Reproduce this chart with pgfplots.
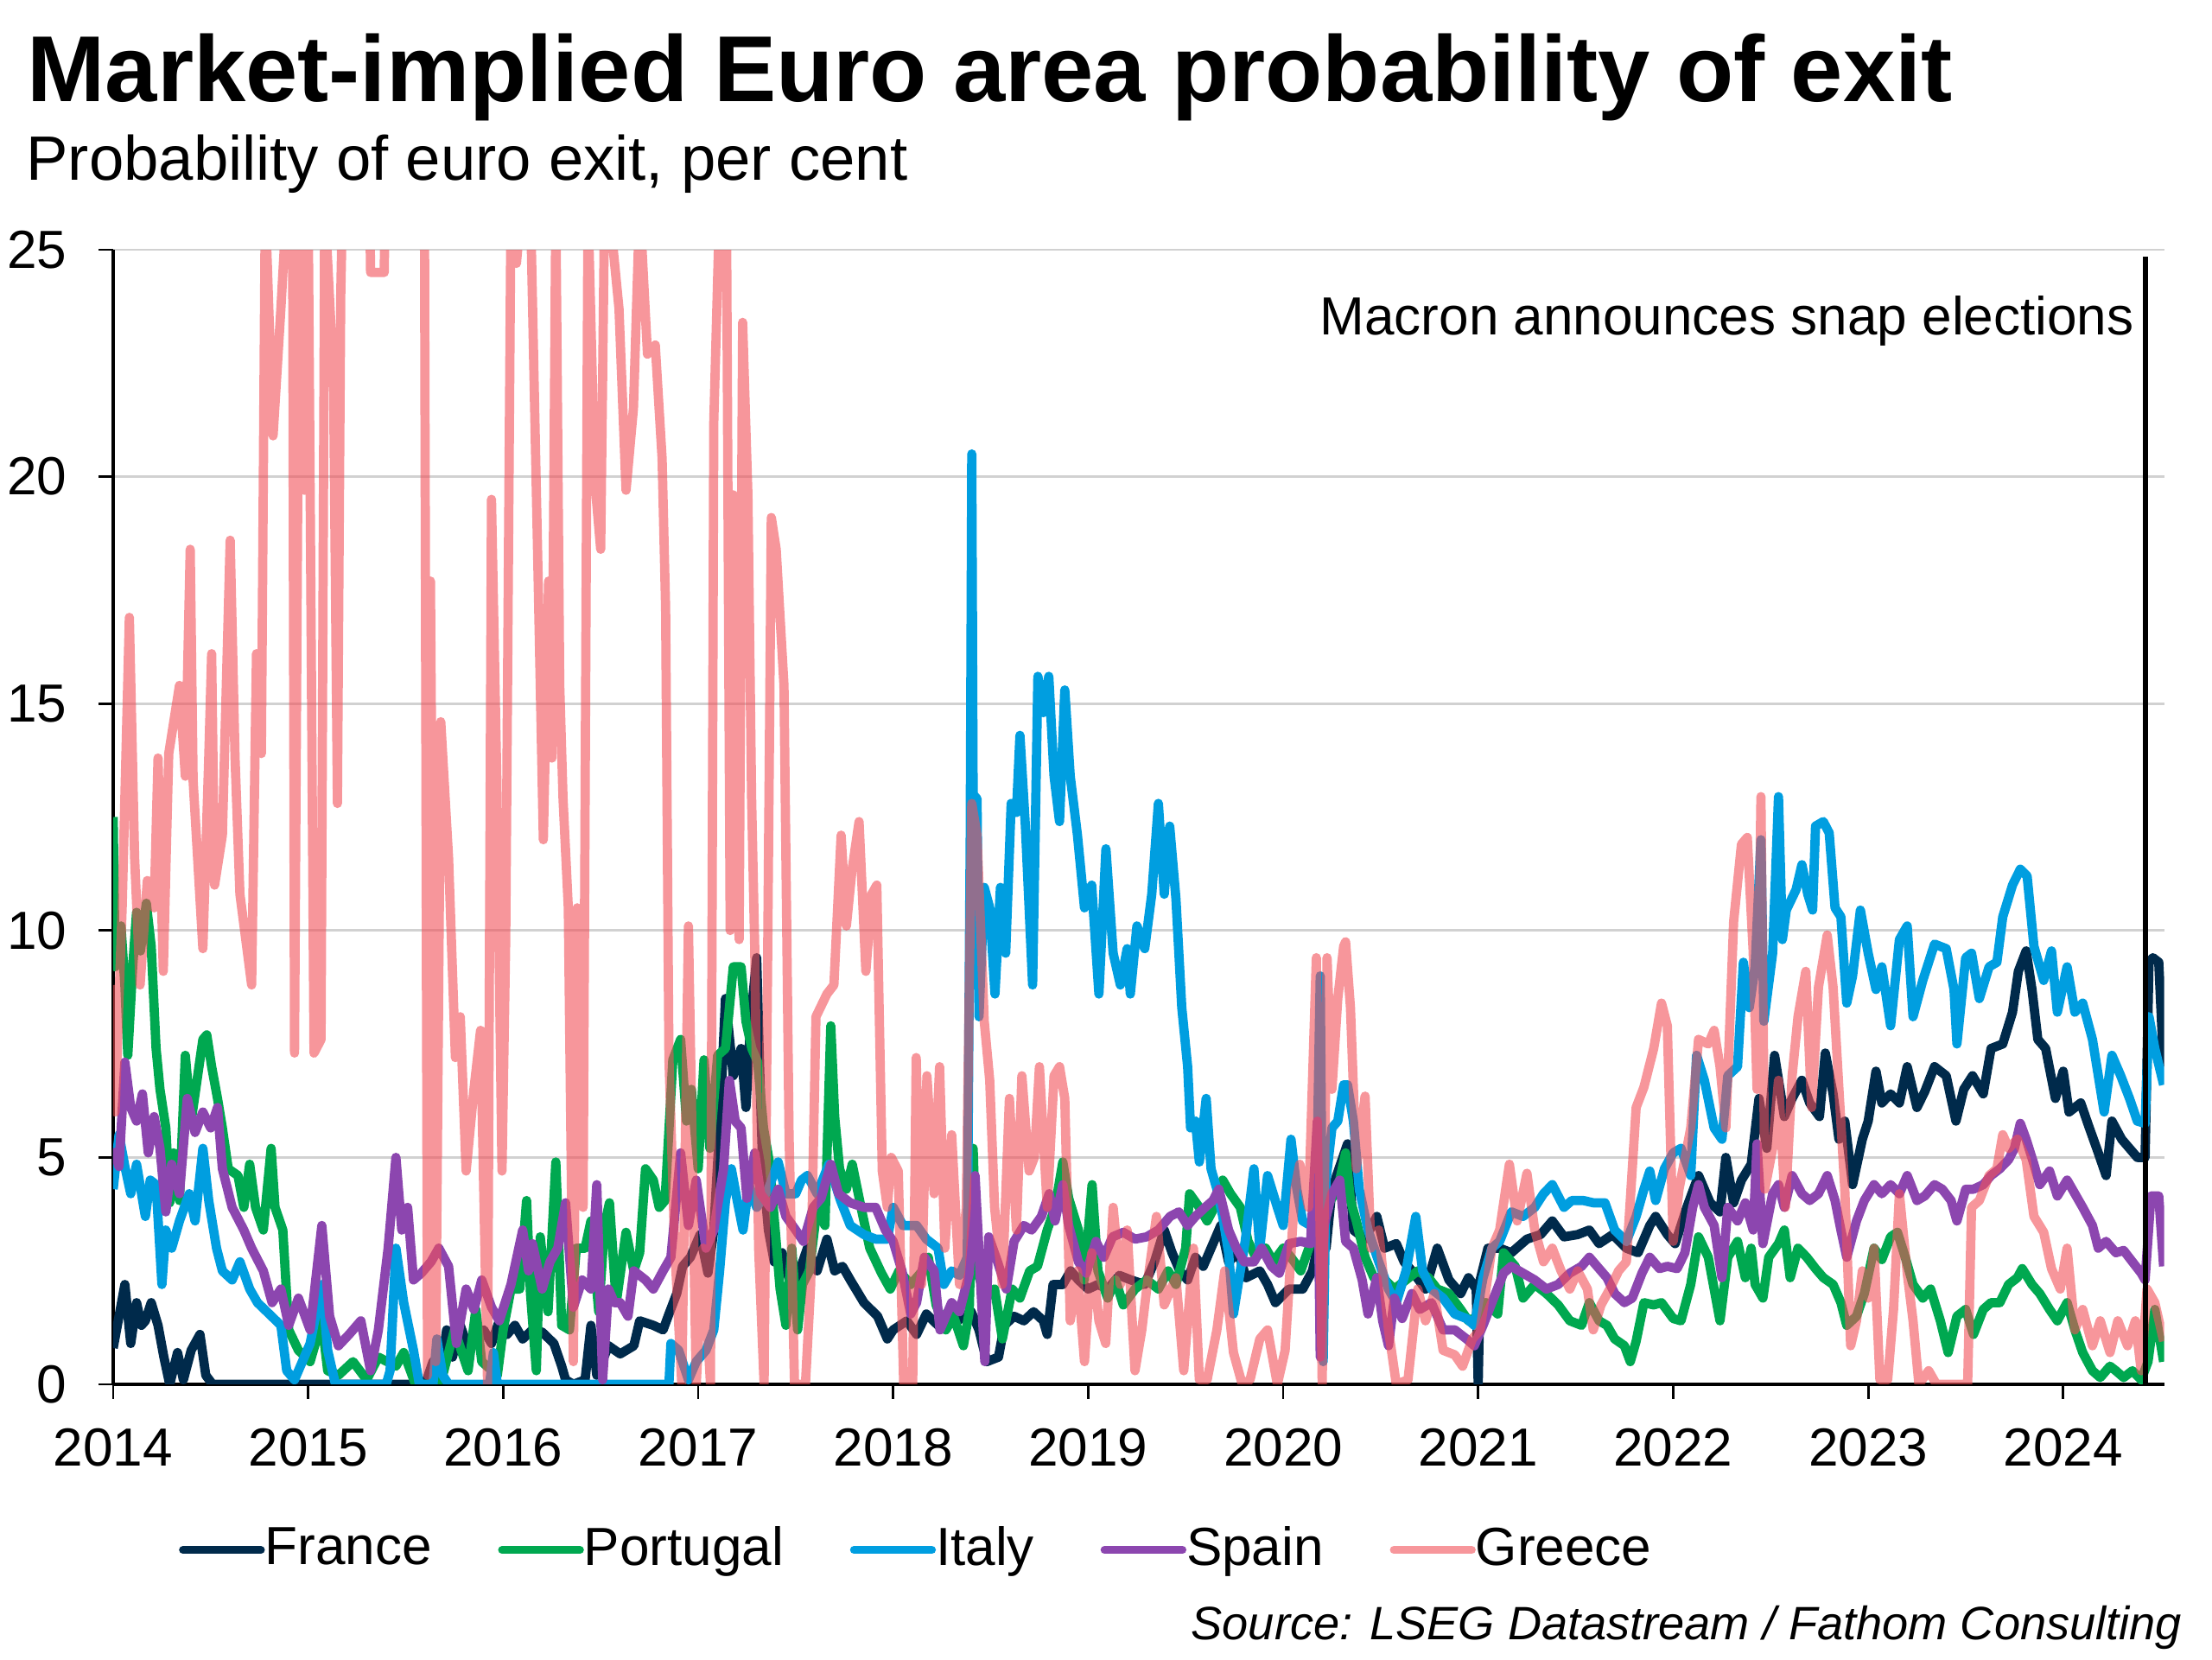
\documentclass[border=0pt]{standalone}
\usepackage{pgfplots}
\pgfplotsset{compat=1.18}
\usepackage{fontspec}
\setmainfont{Liberation Sans}
\definecolor{cFrance}{RGB}{0,42,75}
\definecolor{cPortugal}{RGB}{0,168,80}
\definecolor{cItaly}{RGB}{0,158,224}
\definecolor{cSpain}{RGB}{140,70,175}
\definecolor{cGreece}{RGB}{242,80,88}
\begin{document}
\begin{tikzpicture}
\path[use as bounding box] (-23.21pt,-56.52pt) rectangle (430.4pt,283.86pt);
\begin{axis}[
  name=ax,
  at={(0pt,0pt)}, anchor=south west,
  scale only axis,
  width=420.6pt, height=232.65pt,
  xmin=2014, xmax=2024.518,
  ymin=0, ymax=25,
  axis x line*=bottom, axis y line*=left,
  axis line style={black, line width=0.6pt},
  xtick={2014,2015,2016,2017,2018,2019,2020,2021,2022,2023,2024},
  xticklabels={2014,2015,2016,2017,2018,2019,2020,2021,2022,2023,2024},
  ytick={0,5,10,15,20,25},
  yticklabels={0,5,10,15,20,25},
  tick align=outside,
  major tick length=3pt,
  tick style={black, line width=0.5pt},
  ymajorgrids,
  major grid style={draw=black!18, line width=0.5pt},
  tick label style={font=\fontsize{11}{13}\selectfont, inner sep=0pt},
  xticklabel style={anchor=north, yshift=-5.9pt},
  yticklabel style={anchor=east, xshift=-6.3pt},
  every axis plot/.append style={line width=1.9pt, line join=round},
  legend columns=5,
  legend style={
    at={(axis description cs:0.0321,-0.146)}, anchor=west,
    draw=none, fill=none, inner sep=0pt, outer sep=0pt,
    font=\fontsize{11}{13}\selectfont,
    column sep=0pt,
    /tikz/every even column/.append style={column sep=13.6pt},
    nodes={inner sep=0pt},
  },
  legend image code/.code={\draw[line cap=round, line width=1.6pt] (0pt,0pt) -- (16pt,0pt);},
]
% France
\addplot[color=cFrance] coordinates {
(2014.00,0.8) (2014.03,1.5) (2014.06,2.2) (2014.09,0.9) (2014.12,1.8) (2014.145,1.3) (2014.165,1.4) (2014.195,1.8) (2014.23,1.3) (2014.26,0.6) (2014.29,0.0) (2014.33,0.7) (2014.36,0.1) (2014.40,0.75) (2014.445,1.1) (2014.475,0.2) (2014.51,0.0) (2015.60,0.0)
(2015.64,0.5) (2015.68,0.3) (2015.71,1.2) (2015.74,0.6) (2015.78,1.3) (2015.82,0.8) (2015.86,1.1) (2015.90,1.2) (2015.94,0.9) (2015.98,1.4) (2016.02,1.1) (2016.06,1.3) (2016.10,1.0) (2016.15,1.2) (2016.20,1.15) (2016.26,0.9) (2016.30,0.4) (2016.32,0.1) (2016.36,0.0) (2016.42,0.1) (2016.45,1.3) (2016.48,0.2) (2016.54,0.85) (2016.60,0.67) (2016.67,0.85) (2016.70,1.4) (2016.77,1.3) (2016.82,1.2) (2016.85,1.55) (2016.89,2.0) (2016.92,2.6) (2016.96,2.8) (2017.01,3.3) (2017.05,2.45) (2017.08,3.4) (2017.11,5.65) (2017.14,8.5) (2017.18,6.8) (2017.22,7.4) (2017.245,6.1) (2017.27,8.05) (2017.30,9.4) (2017.315,7.0) (2017.33,4.9) (2017.36,3.4) (2017.39,2.7) (2017.43,2.9) (2017.48,2.1) (2017.52,2.5) (2017.56,3.0) (2017.61,2.5) (2017.66,3.2) (2017.70,2.5) (2017.74,2.6) (2017.78,2.3) (2017.85,1.8) (2017.92,1.5) (2017.97,1.0) (2018.00,1.2) (2018.07,1.4) (2018.12,1.1) (2018.17,1.55) (2018.23,1.3) (2018.28,1.5) (2018.33,1.4) (2018.40,1.6) (2018.44,1.2) (2018.48,0.5) (2018.54,0.6) (2018.57,1.3) (2018.62,1.5) (2018.67,1.4) (2018.72,1.6) (2018.77,1.4) (2018.79,1.1) (2018.82,2.2) (2018.87,2.2) (2018.91,2.5) (2018.95,2.3) (2019.00,2.1) (2019.05,2.2) (2019.10,2.1) (2019.16,2.4) (2019.22,2.3) (2019.29,2.2) (2019.34,2.7) (2019.39,3.4) (2019.43,2.9) (2019.47,2.5) (2019.51,2.3) (2019.55,2.8) (2019.59,2.6) (2019.63,3.0) (2019.68,3.5) (2019.72,2.7) (2019.77,2.9) (2019.81,2.35) (2019.88,2.5) (2019.92,2.2) (2019.96,1.8) (2020.03,2.1) (2020.10,2.1) (2020.15,2.5) (2020.19,3.3) (2020.22,3.0) (2020.25,4.3) (2020.29,4.8) (2020.33,5.3) (2020.36,3.4) (2020.42,3.2) (2020.48,3.7) (2020.52,3.0) (2020.58,3.1) (2020.62,2.7) (2020.66,2.5) (2020.73,2.1) (2020.79,3.0) (2020.85,2.3) (2020.91,2.0) (2020.95,2.35) (2020.99,2.1) (2021.00,0.0) (2021.01,2.3) (2021.05,3.0) (2021.11,3.0) (2021.17,2.9) (2021.25,3.2) (2021.32,3.3) (2021.38,3.6) (2021.44,3.25) (2021.51,3.3) (2021.57,3.4) (2021.62,3.1) (2021.69,3.3) (2021.76,3.0) (2021.82,2.9) (2021.88,3.5) (2021.91,3.7) (2021.97,3.3) (2022.01,3.1) (2022.07,3.9) (2022.13,4.6) (2022.19,4.0) (2022.24,3.8) (2022.27,5.0) (2022.31,4.0) (2022.35,4.5) (2022.40,4.85) (2022.44,6.3) (2022.48,5.2) (2022.52,7.25) (2022.57,5.9) (2022.61,6.3) (2022.66,6.7) (2022.70,6.2) (2022.75,5.9) (2022.78,7.3) (2022.82,6.4) (2022.85,5.4) (2022.88,5.8) (2022.92,4.4) (2022.97,5.4) (2023.00,5.8) (2023.04,6.9) (2023.07,6.2) (2023.115,6.4) (2023.16,6.2) (2023.20,7.0) (2023.25,6.1) (2023.29,6.45) (2023.34,7.0) (2023.40,6.8) (2023.45,5.8) (2023.49,6.5) (2023.535,6.8) (2023.59,6.4) (2023.63,7.4) (2023.69,7.5) (2023.74,8.2) (2023.77,9.1) (2023.81,9.55) (2023.84,8.7) (2023.87,7.6) (2023.91,7.4) (2023.96,6.3) (2024.00,6.9) (2024.03,6.0) (2024.09,6.2) (2024.13,5.7) (2024.18,5.1) (2024.22,4.6) (2024.25,5.8) (2024.30,5.4) (2024.34,5.2) (2024.38,5.0) (2024.42,5.0) (2024.44,9.3) (2024.46,9.4) (2024.49,9.3) (2024.515,7.0)
};
\addlegendentry{France}
% Portugal
\addplot[color=cPortugal] coordinates {
(2014.00,12.5) (2014.01,9.2) (2014.04,10.1) (2014.06,8.8) (2014.075,7.25) (2014.10,9.2) (2014.12,10.4) (2014.14,9.55) (2014.17,10.6) (2014.195,9.65) (2014.22,7.4) (2014.24,6.5) (2014.27,5.65) (2014.29,4.0) (2014.31,5.1) (2014.34,4.05) (2014.37,7.25) (2014.40,5.8) (2014.43,6.7) (2014.46,7.6) (2014.48,7.7) (2014.505,7.0) (2014.535,6.3) (2014.56,5.65) (2014.59,4.75) (2014.64,4.6) (2014.67,3.9) (2014.70,4.85) (2014.73,3.9) (2014.77,3.4) (2014.81,5.2) (2014.83,3.9) (2014.87,3.4) (2014.90,1.2) (2014.95,0.75) (2015.01,0.5) (2015.07,1.4) (2015.10,0.3) (2015.155,0.2) (2015.23,0.5) (2015.30,0.1) (2015.36,0.6) (2015.45,0.4) (2015.49,0.7) (2015.55,0.0) (2015.66,0.0) (2015.69,0.2) (2015.75,1.2) (2015.82,0.3) (2015.86,1.65) (2015.89,0.5) (2015.97,0.2) (2016.00,1.2) (2016.04,2.1) (2016.085,2.1) (2016.12,4.05) (2016.14,2.0) (2016.17,0.3) (2016.19,3.25) (2016.23,1.6) (2016.27,4.9) (2016.30,1.3) (2016.34,1.2) (2016.375,3.0) (2016.42,3.0) (2016.45,3.6) (2016.49,1.6) (2016.52,3.5) (2016.545,4.0) (2016.58,1.8) (2016.63,3.35) (2016.67,2.5) (2016.70,2.9) (2016.73,4.75) (2016.77,4.5) (2016.80,3.9) (2016.83,4.05) (2016.87,7.15) (2016.91,7.6) (2016.94,5.8) (2016.965,6.5) (2017.00,4.75) (2017.03,7.15) (2017.06,5.2) (2017.10,7.25) (2017.14,7.4) (2017.18,9.2) (2017.22,9.2) (2017.245,8.0) (2017.275,7.4) (2017.305,7.1) (2017.335,5.65) (2017.365,4.9) (2017.395,3.4) (2017.42,2.1) (2017.45,1.3) (2017.48,3.0) (2017.51,1.2) (2017.535,2.2) (2017.57,2.5) (2017.61,3.9) (2017.65,3.5) (2017.68,7.9) (2017.70,5.9) (2017.725,4.75) (2017.76,4.3) (2017.79,4.85) (2017.84,3.8) (2017.88,3.0) (2017.94,2.45) (2017.985,2.1) (2018.03,2.5) (2018.09,2.2) (2018.15,2.5) (2018.18,2.8) (2018.22,1.75) (2018.27,1.2) (2018.31,1.5) (2018.36,0.85) (2018.39,1.6) (2018.41,5.2) (2018.43,2.5) (2018.475,1.9) (2018.52,2.1) (2018.56,1.0) (2018.61,2.1) (2018.65,1.9) (2018.70,2.5) (2018.74,2.6) (2018.79,3.4) (2018.83,3.9) (2018.87,4.9) (2018.90,4.1) (2018.95,3.4) (2018.98,2.3) (2019.02,4.4) (2019.05,2.5) (2019.10,1.9) (2019.14,2.3) (2019.18,1.75) (2019.24,2.1) (2019.30,2.3) (2019.36,2.1) (2019.41,2.5) (2019.45,2.2) (2019.50,3.0) (2019.52,4.2) (2019.57,3.9) (2019.61,3.6) (2019.66,4.0) (2019.69,4.5) (2019.73,4.2) (2019.78,3.9) (2019.82,3.15) (2019.86,2.8) (2019.91,3.0) (2019.95,2.7) (2020.00,3.0) (2020.04,2.8) (2020.09,2.5) (2020.14,3.1) (2020.22,3.9) (2020.28,4.3) (2020.32,5.1) (2020.345,4.05) (2020.375,3.6) (2020.42,2.8) (2020.465,2.35) (2020.51,2.35) (2020.57,2.1) (2020.63,2.3) (2020.69,2.5) (2020.745,2.35) (2020.79,2.1) (2020.85,2.0) (2020.91,1.65) (2020.95,1.4) (2021.00,1.5) (2021.04,1.8) (2021.10,1.55) (2021.13,2.9) (2021.19,2.6) (2021.23,1.9) (2021.29,2.2) (2021.35,2.0) (2021.41,1.75) (2021.47,1.4) (2021.53,1.3) (2021.57,1.8) (2021.62,1.4) (2021.66,1.3) (2021.70,1.0) (2021.75,0.85) (2021.78,0.5) (2021.81,0.95) (2021.85,1.8) (2021.90,1.75) (2021.94,1.8) (2022.00,1.45) (2022.04,1.4) (2022.09,2.2) (2022.13,3.25) (2022.18,2.8) (2022.21,2.1) (2022.24,1.4) (2022.28,2.8) (2022.33,3.15) (2022.37,2.35) (2022.40,3.0) (2022.42,2.2) (2022.46,1.9) (2022.49,2.8) (2022.54,3.1) (2022.57,3.4) (2022.60,2.35) (2022.64,3.0) (2022.685,2.8) (2022.73,2.55) (2022.77,2.35) (2022.82,2.2) (2022.86,1.8) (2022.89,1.3) (2022.94,1.5) (2022.98,2.0) (2023.03,3.0) (2023.07,2.75) (2023.115,3.25) (2023.15,3.35) (2023.19,2.8) (2023.23,2.2) (2023.28,1.9) (2023.32,2.1) (2023.37,1.4) (2023.41,0.7) (2023.455,1.5) (2023.50,1.65) (2023.54,1.1) (2023.59,1.65) (2023.63,1.8) (2023.675,1.8) (2023.72,2.2) (2023.765,2.35) (2023.79,2.55) (2023.84,2.2) (2023.88,2.0) (2023.93,1.65) (2023.97,1.4) (2024.02,1.8) (2024.06,1.2) (2024.10,0.7) (2024.15,0.3) (2024.19,0.15) (2024.24,0.4) (2024.27,0.3) (2024.31,0.15) (2024.355,0.3) (2024.40,0.1) (2024.435,0.5) (2024.47,1.65) (2024.515,0.5)
};
\addlegendentry{Portugal}
% Italy
\addplot[color=cItaly] coordinates {
(2014.00,4.3) (2014.03,5.5) (2014.06,4.8) (2014.09,4.2) (2014.12,4.85) (2014.165,3.7) (2014.19,4.5) (2014.22,4.4) (2014.25,2.2) (2014.27,3.4) (2014.30,3.0) (2014.34,3.6) (2014.39,4.2) (2014.42,3.6) (2014.46,5.2) (2014.49,4.05) (2014.53,3.0) (2014.56,2.5) (2014.61,2.3) (2014.65,2.7) (2014.70,2.1) (2014.74,1.8) (2014.80,1.55) (2014.86,1.3) (2014.89,0.3) (2014.93,0.1) (2015.01,0.9) (2015.07,2.2) (2015.10,0.75) (2015.14,0.0) (2015.40,0.0) (2015.42,0.3) (2015.45,3.0) (2015.49,1.8) (2015.54,0.75) (2015.57,0.0) (2015.64,0.0) (2015.66,1.0) (2015.69,0.2) (2015.72,0.0) (2015.93,0.0) (2015.95,0.7) (2015.97,0.0) (2016.85,0.0) (2016.86,0.9) (2016.90,0.75) (2016.95,0.1) (2016.99,0.5) (2017.04,0.75) (2017.08,1.2) (2017.11,2.5) (2017.14,4.05) (2017.17,4.75) (2017.20,4.05) (2017.23,3.4) (2017.26,4.4) (2017.30,3.9) (2017.36,4.3) (2017.41,4.9) (2017.45,4.2) (2017.50,4.2) (2017.53,4.5) (2017.56,4.6) (2017.61,4.2) (2017.67,4.85) (2017.73,4.05) (2017.78,3.5) (2017.85,3.3) (2017.91,3.2) (2017.97,3.2) (2018.00,3.9) (2018.05,3.5) (2018.12,3.5) (2018.17,3.2) (2018.23,3.0) (2018.26,2.2) (2018.30,2.5) (2018.34,2.4) (2018.38,2.8) (2018.395,12.0) (2018.403,20.5) (2018.41,13.0) (2018.43,12.9) (2018.44,8.1) (2018.467,10.95) (2018.495,10.5) (2018.522,8.6) (2018.55,10.95) (2018.577,9.5) (2018.605,12.8) (2018.632,12.6) (2018.65,14.3) (2018.678,12.3) (2018.715,8.8) (2018.742,15.6) (2018.77,14.8) (2018.798,15.6) (2018.825,13.4) (2018.853,12.4) (2018.88,15.3) (2018.908,13.4) (2018.945,12.1) (2018.981,10.5) (2019.018,11.0) (2019.055,8.6) (2019.091,11.8) (2019.128,9.5) (2019.165,8.8) (2019.20,9.6) (2019.216,8.6) (2019.25,10.1) (2019.29,9.6) (2019.326,10.8) (2019.36,12.8) (2019.39,10.8) (2019.418,12.3) (2019.45,10.7) (2019.48,8.3) (2019.51,7.0) (2019.525,5.65) (2019.55,5.8) (2019.57,4.9) (2019.605,6.3) (2019.63,4.75) (2019.66,4.3) (2019.69,3.7) (2019.72,2.9) (2019.745,1.55) (2019.78,2.5) (2019.805,3.15) (2019.85,4.75) (2019.88,3.0) (2019.92,4.6) (2019.97,3.9) (2020.00,3.5) (2020.04,5.4) (2020.07,4.3) (2020.10,3.6) (2020.14,3.5) (2020.17,3.9) (2020.19,9.0) (2020.205,0.5) (2020.22,4.5) (2020.25,5.65) (2020.28,5.8) (2020.31,6.6) (2020.33,6.6) (2020.36,5.8) (2020.39,4.3) (2020.435,3.4) (2020.49,2.7) (2020.54,2.1) (2020.58,1.8) (2020.63,2.5) (2020.68,3.7) (2020.715,2.5) (2020.76,2.1) (2020.82,1.9) (2020.88,1.55) (2020.94,1.45) (2020.98,1.3) (2021.025,2.35) (2021.07,3.0) (2021.11,3.15) (2021.17,3.8) (2021.23,3.7) (2021.29,3.9) (2021.335,4.2) (2021.38,4.4) (2021.44,3.9) (2021.48,4.05) (2021.54,4.05) (2021.59,4.0) (2021.65,4.0) (2021.70,3.4) (2021.76,3.15) (2021.81,3.7) (2021.85,4.3) (2021.88,4.7) (2021.91,4.05) (2021.955,4.75) (2022.00,5.1) (2022.04,5.2) (2022.09,4.6) (2022.12,7.25) (2022.16,6.7) (2022.21,5.65) (2022.25,5.4) (2022.28,6.8) (2022.33,7.0) (2022.36,9.3) (2022.39,8.3) (2022.42,9.2) (2022.45,12.0) (2022.465,8.0) (2022.51,9.5) (2022.54,12.95) (2022.56,9.8) (2022.58,10.45) (2022.63,10.9) (2022.66,11.45) (2022.69,10.8) (2022.715,10.45) (2022.73,12.3) (2022.77,12.4) (2022.80,12.15) (2022.83,10.5) (2022.86,10.3) (2022.89,8.4) (2022.92,9.0) (2022.96,10.45) (2023.00,9.5) (2023.04,8.7) (2023.07,9.2) (2023.115,7.9) (2023.16,9.8) (2023.20,10.1) (2023.23,8.1) (2023.28,8.9) (2023.34,9.7) (2023.40,9.6) (2023.44,8.7) (2023.455,7.5) (2023.50,9.4) (2023.53,9.5) (2023.57,8.5) (2023.62,9.2) (2023.66,9.3) (2023.69,10.3) (2023.74,11.0) (2023.78,11.35) (2023.815,11.2) (2023.85,9.65) (2023.90,8.9) (2023.94,9.55) (2023.97,8.2) (2024.02,9.2) (2024.06,8.2) (2024.10,8.4) (2024.15,7.6) (2024.18,6.8) (2024.21,6.0) (2024.25,7.25) (2024.295,6.8) (2024.34,6.3) (2024.38,5.8) (2024.42,5.75) (2024.44,8.1) (2024.47,7.4) (2024.515,6.6)
};
\addlegendentry{Italy}
% Spain
\addplot[color=cSpain] coordinates {
(2014.00,5.2) (2014.03,4.8) (2014.06,7.1) (2014.09,6.1) (2014.12,5.8) (2014.15,6.4) (2014.18,5.1) (2014.21,5.9) (2014.24,5.2) (2014.27,3.8) (2014.30,4.85) (2014.34,4.2) (2014.38,6.3) (2014.42,5.55) (2014.46,6.0) (2014.50,5.65) (2014.535,6.1) (2014.56,4.75) (2014.61,3.9) (2014.67,3.4) (2014.71,3.0) (2014.77,2.5) (2014.815,1.8) (2014.86,2.1) (2014.90,1.3) (2014.95,1.9) (2015.01,1.2) (2015.07,3.5) (2015.11,1.5) (2015.155,0.85) (2015.21,1.1) (2015.27,1.4) (2015.32,0.3) (2015.36,1.2) (2015.41,3.0) (2015.45,5.0) (2015.48,3.4) (2015.51,3.9) (2015.54,2.3) (2015.58,2.45) (2015.63,2.7) (2015.67,3.0) (2015.72,2.6) (2015.76,0.9) (2015.81,2.1) (2015.85,1.65) (2015.89,2.3) (2015.94,1.7) (2015.98,1.4) (2016.04,2.2) (2016.10,3.4) (2016.13,2.5) (2016.15,3.1) (2016.20,2.1) (2016.24,2.7) (2016.28,3.0) (2016.32,4.0) (2016.36,1.7) (2016.405,2.3) (2016.45,2.1) (2016.48,4.4) (2016.51,0.1) (2016.54,2.1) (2016.57,1.8) (2016.60,1.8) (2016.64,1.5) (2016.67,2.5) (2016.73,2.3) (2016.77,2.1) (2016.82,2.5) (2016.86,2.8) (2016.91,5.1) (2016.95,3.5) (2016.99,4.5) (2017.04,3.0) (2017.08,3.4) (2017.13,4.75) (2017.16,6.7) (2017.19,5.8) (2017.22,5.65) (2017.25,4.1) (2017.29,5.1) (2017.32,4.2) (2017.37,3.9) (2017.41,4.3) (2017.45,3.7) (2017.50,3.4) (2017.54,3.15) (2017.59,3.9) (2017.63,4.1) (2017.68,4.85) (2017.72,4.2) (2017.78,4.0) (2017.85,3.9) (2017.91,3.9) (2017.96,3.4) (2018.00,3.15) (2018.045,2.5) (2018.09,1.55) (2018.12,1.8) (2018.16,2.8) (2018.21,2.5) (2018.24,1.2) (2018.30,1.8) (2018.34,1.6) (2018.39,2.45) (2018.42,4.6) (2018.45,2.1) (2018.47,0.5) (2018.49,3.25) (2018.535,2.7) (2018.58,2.1) (2018.62,3.15) (2018.67,3.5) (2018.71,3.4) (2018.76,3.7) (2018.80,4.2) (2018.83,3.6) (2018.87,4.4) (2018.90,3.5) (2018.95,2.7) (2018.99,2.45) (2019.04,3.15) (2019.08,2.8) (2019.125,3.25) (2019.18,3.35) (2019.24,3.2) (2019.30,3.25) (2019.36,3.4) (2019.42,3.7) (2019.465,3.8) (2019.51,3.5) (2019.55,3.7) (2019.60,3.9) (2019.64,4.05) (2019.67,4.3) (2019.72,3.4) (2019.76,3.0) (2019.80,2.7) (2019.85,2.7) (2019.89,3.0) (2019.94,2.6) (2019.98,2.45) (2020.03,3.1) (2020.09,3.15) (2020.14,3.1) (2020.175,5.8) (2020.19,0.6) (2020.21,3.5) (2020.25,4.2) (2020.29,4.5) (2020.32,3.15) (2020.36,3.0) (2020.405,2.3) (2020.435,1.55) (2020.48,2.35) (2020.51,1.4) (2020.54,0.85) (2020.57,1.9) (2020.61,1.45) (2020.66,2.0) (2020.70,1.65) (2020.76,1.8) (2020.82,1.2) (2020.88,1.2) (2020.94,1.0) (2020.98,0.85) (2021.025,1.3) (2021.07,1.8) (2021.13,2.45) (2021.17,2.6) (2021.23,2.45) (2021.29,2.3) (2021.35,2.1) (2021.41,2.2) (2021.47,2.45) (2021.53,2.6) (2021.57,2.8) (2021.62,2.55) (2021.66,2.35) (2021.70,2.0) (2021.75,1.8) (2021.79,1.9) (2021.84,2.45) (2021.88,2.8) (2021.93,2.55) (2021.97,2.6) (2022.02,2.55) (2022.06,2.9) (2022.10,3.9) (2022.13,4.4) (2022.16,3.9) (2022.21,3.5) (2022.25,2.35) (2022.28,3.9) (2022.33,3.6) (2022.37,4.0) (2022.41,3.4) (2022.43,5.3) (2022.46,3.1) (2022.51,4.2) (2022.54,4.4) (2022.57,3.9) (2022.61,4.6) (2022.66,4.2) (2022.70,4.05) (2022.745,4.2) (2022.79,4.6) (2022.83,4.05) (2022.86,3.4) (2022.89,2.8) (2022.94,3.6) (2022.98,4.05) (2023.03,4.4) (2023.07,4.2) (2023.115,4.4) (2023.16,4.2) (2023.20,4.6) (2023.25,4.05) (2023.29,4.15) (2023.34,4.4) (2023.38,4.3) (2023.425,4.05) (2023.455,3.6) (2023.50,4.3) (2023.54,4.3) (2023.59,4.4) (2023.63,4.6) (2023.675,4.75) (2023.72,4.95) (2023.75,5.2) (2023.78,5.75) (2023.81,5.4) (2023.85,4.85) (2023.88,4.4) (2023.93,4.7) (2023.97,4.15) (2024.02,4.5) (2024.06,4.2) (2024.10,3.9) (2024.15,3.5) (2024.18,3.0) (2024.22,3.15) (2024.27,2.9) (2024.31,2.95) (2024.355,2.7) (2024.40,2.45) (2024.42,2.3) (2024.45,4.15) (2024.49,4.15) (2024.515,2.6)
};
\addlegendentry{Spain}
% Greece
\addplot[color=cGreece, opacity=0.6] coordinates {
(2014.00,8.8) (2014.01,6.0) (2014.046,10.5) (2014.083,16.9) (2014.11,11.6) (2014.138,8.8) (2014.175,11.1) (2014.21,10.5) (2014.23,13.8) (2014.257,9.1) (2014.285,13.9) (2014.34,15.4) (2014.37,13.4) (2014.395,18.4) (2014.41,13.3) (2014.46,9.6) (2014.49,13.8) (2014.505,16.1) (2014.52,11.0) (2014.56,12.1) (2014.60,18.6) (2014.625,13.8) (2014.65,10.8) (2014.71,8.8) (2014.735,16.1) (2014.76,13.9) (2014.78,26) (2014.82,20.9) (2014.86,23.7) (2014.89,26) (2014.92,26) (2014.93,7.3) (2014.955,26) (2014.98,19.7) (2015.00,26) (2015.03,7.3) (2015.066,7.6) (2015.085,26) (2015.13,22.2) (2015.15,12.8) (2015.167,24.0) (2015.185,28) (2015.31,28) (2015.32,24.5) (2015.39,24.5) (2015.40,28) (2015.595,28) (2015.612,0.2) (2015.627,17.7) (2015.654,0.5) (2015.68,14.6) (2015.72,11.6) (2015.755,7.2) (2015.78,8.1) (2015.81,4.7) (2015.85,6.5) (2015.884,7.8) (2015.92,0.0) (2015.94,19.5) (2015.967,13.4) (2015.994,4.7) (2016.013,9.8) (2016.04,26) (2016.068,24.7) (2016.095,26) (2016.14,26) (2016.18,17.6) (2016.206,12.0) (2016.233,17.7) (2016.25,13.8) (2016.27,26) (2016.29,15.4) (2016.307,12.9) (2016.334,10.5) (2016.36,0.5) (2016.38,10.5) (2016.41,3.9) (2016.435,26) (2016.47,19.9) (2016.50,18.4) (2016.52,26) (2016.56,25.2) (2016.594,23.7) (2016.63,19.7) (2016.668,21.5) (2016.70,26) (2016.74,22.7) (2016.78,22.9) (2016.815,20.4) (2016.833,17.1) (2016.85,7.2) (2016.88,3.0) (2016.916,0.0) (2016.95,10.1) (2016.99,0.0) (2017.026,3.0) (2017.063,0.0) (2017.08,21.2) (2017.11,26) (2017.145,26) (2017.164,10.0) (2017.18,19.6) (2017.21,9.8) (2017.228,23.4) (2017.255,19.6) (2017.274,12.9) (2017.29,9.6) (2017.31,3.0) (2017.338,0.0) (2017.375,19.1) (2017.40,18.4) (2017.44,15.4) (2017.466,5.5) (2017.494,0.0) (2017.55,0.0) (2017.577,2.2) (2017.604,8.1) (2017.66,8.6) (2017.696,8.8) (2017.733,12.1) (2017.76,10.1) (2017.788,11.3) (2017.825,12.4) (2017.86,9.1) (2017.89,10.8) (2017.916,11.0) (2017.944,4.7) (2017.97,3.9) (2017.99,5.0) (2018.026,4.7) (2018.054,0.0) (2018.10,0.0) (2018.118,7.2) (2018.146,2.2) (2018.173,6.8) (2018.21,4.2) (2018.238,7.0) (2018.265,3.0) (2018.30,5.5) (2018.34,2.2) (2018.375,3.9) (2018.403,12.8) (2018.43,12.1) (2018.467,8.0) (2018.495,6.7) (2018.52,3.9) (2018.56,2.2) (2018.596,6.3) (2018.632,3.4) (2018.66,6.8) (2018.697,4.7) (2018.724,5.0) (2018.75,7.0) (2018.79,3.9) (2018.825,6.8) (2018.853,7.0) (2018.88,6.3) (2018.908,1.4) (2018.945,2.5) (2018.981,0.5) (2019.018,2.9) (2019.055,1.4) (2019.09,0.9) (2019.128,3.9) (2019.165,2.2) (2019.20,3.4) (2019.24,0.3) (2019.275,1.2) (2019.30,2.1) (2019.35,3.7) (2019.39,1.75) (2019.45,2.35) (2019.49,0.3) (2019.54,3.0) (2019.57,0.1) (2019.61,0.1) (2019.66,1.2) (2019.70,2.5) (2019.745,0.7) (2019.79,0.0) (2019.83,0.1) (2019.88,1.0) (2019.92,1.2) (2019.97,0.0) (2020.01,0.75) (2020.06,4.3) (2020.085,4.85) (2020.13,3.9) (2020.17,9.4) (2020.20,0.0) (2020.225,9.4) (2020.25,6.5) (2020.28,8.5) (2020.31,9.65) (2020.32,9.75) (2020.345,8.3) (2020.375,4.75) (2020.42,6.35) (2020.45,3.0) (2020.49,3.4) (2020.54,1.2) (2020.58,0.0) (2020.64,0.1) (2020.69,2.1) (2020.73,1.4) (2020.775,2.0) (2020.82,0.75) (2020.88,0.65) (2020.92,0.4) (2020.97,1.0) (2021.01,1.2) (2021.07,3.0) (2021.11,3.4) (2021.16,4.85) (2021.20,3.6) (2021.25,4.65) (2021.29,3.4) (2021.335,2.7) (2021.38,3.0) (2021.425,2.5) (2021.47,2.1) (2021.51,2.5) (2021.56,2.1) (2021.59,1.2) (2021.63,1.75) (2021.675,2.1) (2021.72,2.5) (2021.76,2.7) (2021.81,6.1) (2021.85,6.55) (2021.90,7.4) (2021.94,8.4) (2021.97,7.9) (2022.00,3.15) (2022.03,4.3) (2022.09,5.65) (2022.13,7.6) (2022.18,7.5) (2022.21,7.8) (2022.24,7.0) (2022.27,5.65) (2022.31,10.2) (2022.35,11.9) (2022.38,12.05) (2022.41,9.55) (2022.43,6.5) (2022.45,12.95) (2022.47,4.3) (2022.51,5.2) (2022.54,6.7) (2022.575,3.9) (2022.61,6.8) (2022.64,8.1) (2022.68,9.1) (2022.71,6.1) (2022.745,8.75) (2022.79,9.9) (2022.82,8.75) (2022.85,6.5) (2022.88,4.3) (2022.91,0.85) (2022.94,1.4) (2022.97,2.5) (2023.00,1.9) (2023.03,3.0) (2023.06,0.1) (2023.10,0.1) (2023.13,1.65) (2023.16,4.2) (2023.20,2.45) (2023.23,1.4) (2023.26,0.0) (2023.31,0.3) (2023.35,0.0) (2023.51,0.0) (2023.53,3.9) (2023.57,4.05) (2023.62,4.6) (2023.66,4.75) (2023.69,5.5) (2023.72,5.2) (2023.765,5.4) (2023.81,4.95) (2023.85,3.7) (2023.90,3.35) (2023.94,2.55) (2023.985,2.1) (2024.02,3.0) (2024.06,1.2) (2024.10,1.65) (2024.15,0.85) (2024.19,1.4) (2024.24,0.7) (2024.28,1.4) (2024.33,0.85) (2024.37,1.4) (2024.40,0.3) (2024.43,2.1) (2024.47,1.8) (2024.515,0.95)
};
\addlegendentry{Greece}
\draw[black, line width=1pt] (axis cs:2024.421,0) -- (axis cs:2024.421,24.85);
\node[anchor=base east, inner sep=0pt, font=\fontsize{11}{13}\selectfont] at (axis cs:2024.368,23.13) {Macron announces snap elections};
\end{axis}
\node[anchor=base west, inner sep=0pt, font=\fontsize{19.2}{22}\selectfont\bfseries] at (-17.8pt,262.95pt) {Market-implied Euro area probability of exit};
\node[anchor=base west, inner sep=0pt, font=\fontsize{12.85}{15}\selectfont] at (-18pt,247pt) {Probability of euro exit, per cent};
\node[anchor=base east, inner sep=0pt, font=\fontsize{9.6}{12}\selectfont\itshape] at (424.4pt,-52.3pt) {Source: LSEG Datastream / Fathom Consulting};
\end{tikzpicture}
\end{document}
